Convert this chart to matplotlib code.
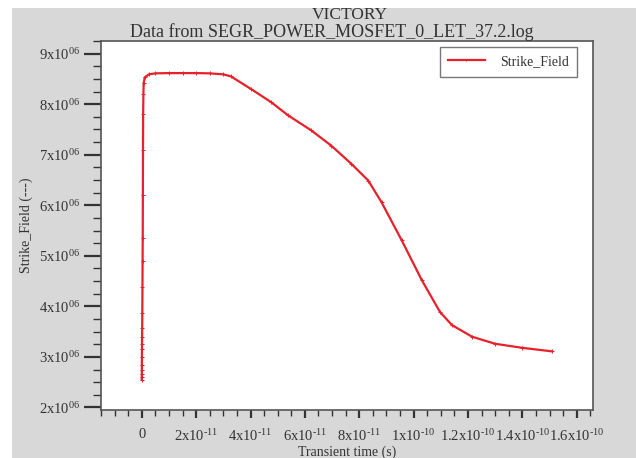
import matplotlib
matplotlib.use("Agg")
import matplotlib.pyplot as plt
from matplotlib.patches import Rectangle
from matplotlib.ticker import MultipleLocator, FixedLocator

plt.rcParams['font.family'] = ['Liberation Serif', 'DejaVu Serif']
plt.rcParams['mathtext.fontset'] = 'custom'
plt.rcParams['mathtext.rm'] = 'Liberation Serif'
plt.rcParams['mathtext.it'] = 'Liberation Serif'
plt.rcParams['mathtext.default'] = 'rm'

# Strike_Field vs transient time
time_s = [0, 1e-14, 2e-14, 3e-14, 4e-14, 5e-14, 7e-14, 9e-14, 1.2e-13, 1.5e-13,
          2e-13, 2.5e-13, 3e-13, 3.5e-13, 4e-13, 4.5e-13, 5e-13, 6e-13, 7e-13,
          1.1e-12, 2.6e-12, 5e-12, 1e-11, 1.5e-11, 2e-11, 2.5e-11, 3e-11,
          3.28e-11, 4.02e-11, 4.76e-11, 5.38e-11, 6.24e-11, 6.97e-11, 7.71e-11,
          8.33e-11, 8.82e-11, 9.56e-11, 1.03e-10, 1.097e-10, 1.141e-10,
          1.215e-10, 1.30e-10, 1.40e-10, 1.509e-10]
strike_field = [2.55e6, 2.61e6, 2.66e6, 2.74e6, 2.84e6, 2.99e6, 3.15e6, 3.26e6,
                3.40e6, 3.57e6, 3.87e6, 4.38e6, 4.9e6, 5.35e6, 6.2e6, 7.1e6,
                7.8e6, 8.2e6, 8.42e6, 8.53e6, 8.59e6, 8.61e6, 8.615e6, 8.615e6,
                8.615e6, 8.61e6, 8.59e6, 8.55e6, 8.30e6, 8.04e6, 7.78e6, 7.48e6,
                7.18e6, 6.82e6, 6.49e6, 6.06e6, 5.31e6, 4.52e6, 3.89e6, 3.63e6,
                3.40e6, 3.26e6, 3.18e6, 3.11e6]

x_ticks = [0, 2e-11, 4e-11, 6e-11, 8e-11, 1e-10, 1.2e-10, 1.4e-10, 1.6e-10]
x_labels = ['0', '2x10$^{\u201011}$', '4x10$^{\u201011}$', '6x10$^{\u201011}$',
            '8x10$^{\u201011}$', '1x10$^{\u201010}$', '1.2x10$^{\u201010}$',
            '1.4x10$^{\u201010}$', '1.6x10$^{\u201010}$']
y_ticks = [2e6, 3e6, 4e6, 5e6, 6e6, 7e6, 8e6, 9e6]
y_labels = ['%dx10$^{06}$' % (v / 1e6) for v in y_ticks]

txt = '#333333'
W, H = 636, 458
fig = plt.figure(figsize=(W / 100, H / 100), dpi=100)
fig.patch.set_facecolor('white')
fig.patches.append(Rectangle((12 / W, 0), 1, 1 - 8 / H, transform=fig.transFigure,
                             facecolor='#d8d8d8', edgecolor='none', zorder=-10))

ax = fig.add_axes([101 / W, 1 - 410 / H, (593 - 101) / W, (410 - 41) / H])
ax.set_facecolor('white')
ax.plot(time_s, strike_field, color='#e8202a', lw=1.6, marker='+', ms=2.5,
        mew=0.7, label='Strike_Field')

ax.set_xlim(-1.5e-11, 1.66e-10)
ax.set_ylim(1.95e6, 9.25e6)
ax.xaxis.set_major_locator(FixedLocator(x_ticks))
ax.set_xticklabels(x_labels)
ax.xaxis.set_minor_locator(MultipleLocator(5e-12))
ax.yaxis.set_major_locator(FixedLocator(y_ticks))
ax.set_yticklabels(y_labels)
ax.yaxis.set_minor_locator(MultipleLocator(2.5e5))

ax.tick_params(axis='both', which='both', direction='out', colors='#333333',
               labelcolor=txt, labelsize=10.5)
ax.tick_params(axis='y', which='major', length=12, width=1.6, pad=3)
ax.tick_params(axis='y', which='minor', length=6, width=1.0)
ax.tick_params(axis='x', which='major', length=6, width=1.6, pad=7)
ax.tick_params(axis='x', which='minor', length=4, width=1.0)
for s in ax.spines.values():
    s.set_color('#555555')
    s.set_linewidth(1.2)

ax.set_xlabel('Transient time (s)', fontsize=10, color=txt, labelpad=1)
ax.set_ylabel('Strike_Field (---)', fontsize=10, color=txt, labelpad=4)

fig.text(350 / W, 1 - 15 / H, 'VICTORY', ha='center', va='center',
         fontsize=12.5, color=txt)
fig.text(332 / W, 1 - 32 / H, 'Data from SEGR_POWER_MOSFET_0_LET_37.2.log',
         ha='center', va='center', fontsize=13, color=txt)

leg = ax.legend(loc='upper right', bbox_to_anchor=(0.9675, 0.9837),
                borderaxespad=0, fancybox=False, fontsize=10, handlelength=2.6,
                handletextpad=1.1, borderpad=0.6, markerscale=0.8)
leg.get_frame().set_edgecolor('#555555')
leg.get_frame().set_linewidth(1.0)
for t in leg.get_texts():
    t.set_color(txt)

fig.savefig('out.png', dpi=100)
